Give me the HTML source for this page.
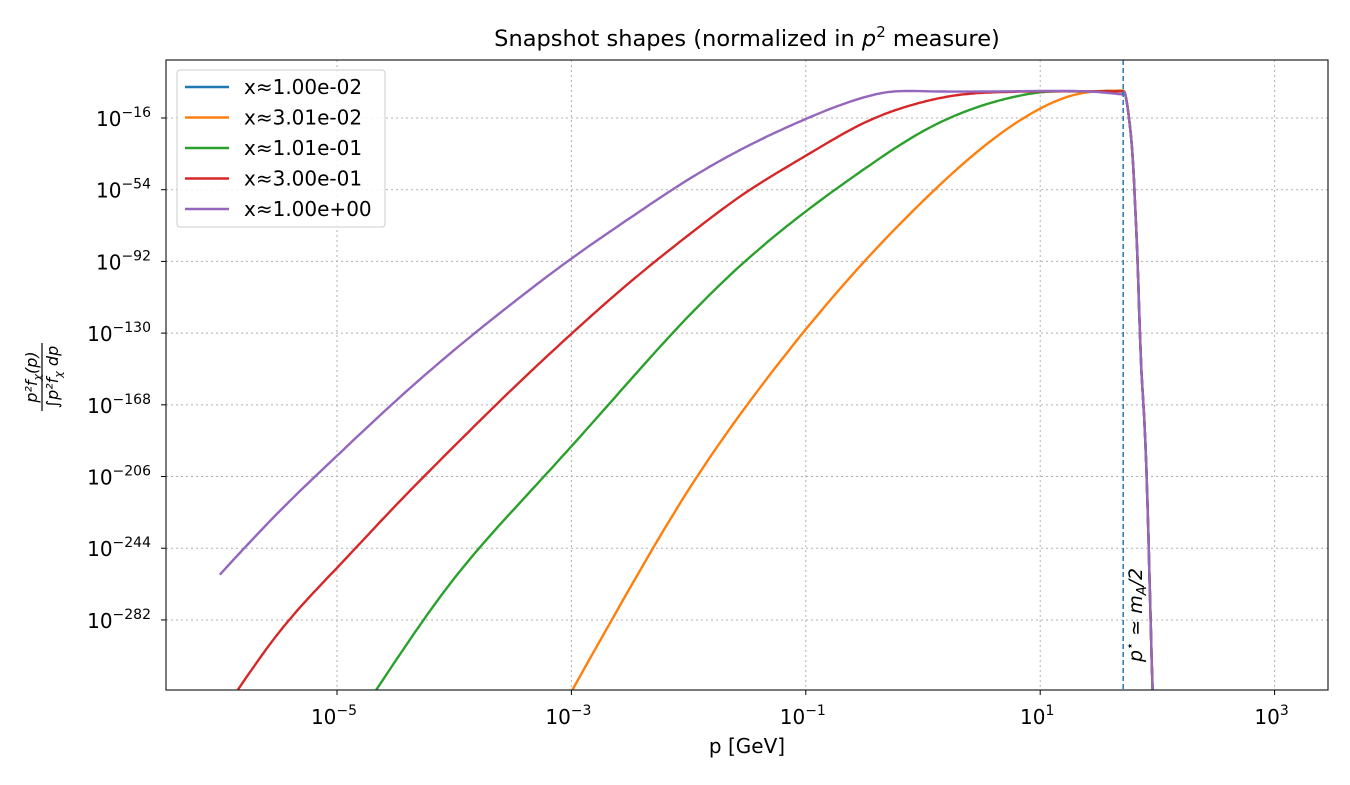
<!DOCTYPE html>
<html><head><meta charset="utf-8"><style>
body{margin:0;background:#fff;font-family:"Liberation Sans","DejaVu Sans",sans-serif}
svg text{font-family:"DejaVu Sans","Liberation Sans",sans-serif}
</style></head><body>
<svg id="chart" width="1350" height="780">
<rect width="1350" height="780" fill="#fff"/>
<defs><clipPath id="pc"><rect x="166" y="60" width="1162" height="630"/></clipPath></defs>
<g id="grid"></g>
<g id="series" clip-path="url(#pc)"></g>
<rect x="166" y="60" width="1162" height="630" fill="none" stroke="#222" stroke-width="1.2"/>
<g id="axes"></g>
<text x="747" y="46" font-size="22.5" text-anchor="middle">Snapshot shapes (normalized in <tspan font-style="italic">p</tspan><tspan font-size="15" dy="-9">2</tspan><tspan dy="9"> measure)</tspan></text>
<text x="747" y="753" font-size="20" text-anchor="middle">p  [GeV]</text>
<g transform="translate(42,377) rotate(-90)">
<text x="0" y="-5" font-size="16" font-style="italic" text-anchor="middle">p²f<tspan font-size="11" dy="4">χ</tspan><tspan dy="-4">(p)</tspan></text>
<line x1="-34" x2="34" y1="0" y2="0" stroke="#000" stroke-width="1.2"/>
<text x="0" y="16" font-size="16" font-style="italic" text-anchor="middle">∫p²f<tspan font-size="11" dy="4">χ</tspan><tspan dy="-4"> dp</tspan></text>
</g>
<g>
<rect x="177" y="70" width="208" height="157" rx="3" fill="#fff" fill-opacity="0.85" stroke="#ccc"/>
<g id="legend"></g>
</g>
</svg>
<script>
const NS='http://www.w3.org/2000/svg';
const xTicks=[-5,-3,-1,1,3];
const yTicks=[-16,-54,-92,-130,-168,-206,-244,-282];
const seriesLabels=['x≈1.00e-02','x≈3.01e-02','x≈1.01e-01','x≈3.00e-01','x≈1.00e+00'];
const seriesColors=['#1f77b4','#ff7f0e','#2ca02c','#d62728','#9467bd'];
const dropP=[1.72,1.74,1.765,1.79,1.81,1.83,1.86,1.89,1.92,1.95,1.97];
const dropY=[-2.5,-8,-20,-38,-62,-91,-145,-178,-230,-300,-340];
const blueP=[1.55,1.7];const blueY=[-1.6,-1.5];
const orangeP=[-3,-2.5,-2,-1.5,-1,-0.5,0,0.5,1,1.3,1.5,1.7];
const orangeY=[-320,-265,-213,-168,-128,-92,-60,-32,-11,-3.6,-1.8,-1.5];
const greenP=[-4.67,-4,-3.5,-3,-2.5,-2,-1.5,-1,-0.5,0,0.5,0.8,1,1.3,1.7];
const greenY=[-319.5,-260,-224,-190,-155,-121,-91,-65.5,-43,-23,-9.5,-4.5,-2.4,-1.9,-1.8];
const redP=[-5.9,-5.5,-5,-4.5,-4,-3.5,-3,-2.5,-2,-1.5,-1,-0.5,0,0.3,0.6,1,1.7];
const redY=[-324,-289,-254.4,-221.4,-189.9,-159.4,-130.4,-103,-78,-55,-36,-18.5,-7.5,-3.8,-2.4,-1.9,-1.9];
const purpleP=[-6,-5.5,-5,-4.5,-4,-3.5,-3,-2.5,-2,-1.5,-1,-0.5,-0.3,0,1,1.5,1.7];
const purpleY=[-258,-225,-195,-166,-139,-114,-90.5,-69,-48.5,-31,-16.5,-5,-2.3,-1.8,-1.7,-2.3,-3.5];
const pStar=1.708;
const X=v=>337+(v+5)*117.2;
const Y=v=>118+(-16-v)*1.887;
const g=document.getElementById('grid'),ax=document.getElementById('axes');
function mk(t,a,p){const e=document.createElementNS(NS,t);for(const k in a)e.setAttribute(k,a[k]);p.appendChild(e);return e;}
function spline(xs,ys,steps){const n=xs.length;if(n<3)return xs.map((x,i)=>[x,ys[i]]);
 const h=[],al=[],l=[1],mu=[0],z=[0],c=new Array(n).fill(0),b=[],d=[];
 for(let i=0;i<n-1;i++)h.push(xs[i+1]-xs[i]);
 for(let i=1;i<n-1;i++)al[i]=3/h[i]*(ys[i+1]-ys[i])-3/h[i-1]*(ys[i]-ys[i-1]);
 for(let i=1;i<n-1;i++){l[i]=2*(xs[i+1]-xs[i-1])-h[i-1]*mu[i-1];mu[i]=h[i]/l[i];z[i]=(al[i]-h[i-1]*z[i-1])/l[i];}
 for(let j=n-2;j>=0;j--){c[j]=(j>0?z[j]-mu[j]*c[j+1]:0);b[j]=(ys[j+1]-ys[j])/h[j]-h[j]*(c[j+1]+2*c[j])/3;d[j]=(c[j+1]-c[j])/(3*h[j]);}
 const out=[];for(let i=0;i<n-1;i++)for(let k=0;k<steps;k++){const t=h[i]*k/steps;out.push([xs[i]+t,ys[i]+b[i]*t+c[i]*t*t+d[i]*t*t*t]);}
 out.push([xs[n-1],ys[n-1]]);return out;}
xTicks.forEach(t=>{const x=X(t);
 const l=mk('line',{x1:x,x2:x,y1:60,y2:690,stroke:'#b0b0b0','stroke-dasharray':'2,3','stroke-width':1},g);
 
 
 mk('line',{x1:x,x2:x,y1:690,y2:695,stroke:'#000'},ax);
 const tx=mk('text',{x:x-3,y:724,'font-size':20,'text-anchor':'middle'},ax);
 
 
 tx.innerHTML='10<tspan font-size="14" dy="-9">'+(t<0?'−'+(-t):t)+'</tspan>';});
yTicks.forEach(t=>{const y=Y(t);
 const l=mk('line',{x1:166,x2:1328,y1:y,y2:y,stroke:'#b0b0b0','stroke-dasharray':'2,3','stroke-width':1},g);
 
 
 mk('line',{x1:161,x2:166,y1:y,y2:y,stroke:'#000'},ax);
 const tx=mk('text',{x:151,y:y+8,'font-size':20,'text-anchor':'end'},ax);
 
 
 tx.innerHTML='10<tspan font-size="14" dy="-9">−'+(-t)+'</tspan>';});
const s=document.getElementById('series');
const all=[[blueP,blueY],[orangeP,orangeY],[greenP,greenY],[redP,redY],[purpleP,purpleY]];
all.forEach((d,i)=>{
 const main=spline(d[0],d[1],12);
 const last=d[0].length-1;
 const drop=spline([d[0][last]].concat(dropP),[d[1][last]].concat(dropY),8).slice(1);
 const pts=main.concat(drop).map(q=>X(q[0]).toFixed(1)+','+Y(q[1]).toFixed(1)).join(' ');
 const pl=mk('polyline',{points:pts,fill:'none',stroke:seriesColors[i],'stroke-width':2.4,'stroke-linejoin':'round'},s);
 
 });
const dl=mk('line',{x1:X(pStar),x2:X(pStar),y1:60,y2:690,stroke:'#1f77b4','stroke-width':1.5,'stroke-dasharray':'5,3'},s);


const pt=mk('text',{transform:'translate('+(X(pStar)+19)+',662) rotate(-90)','font-size':19,'font-style':'italic'},document.getElementById('chart'));


pt.innerHTML='p<tspan font-size="13" dy="-8">⋆</tspan><tspan dy="8"> ≃ m</tspan><tspan font-size="13" dy="4">A</tspan><tspan dy="-4">/2</tspan>';
const lg=document.getElementById('legend');
seriesLabels.forEach((lab,i)=>{const y=87+i*30.5;
 const ll=mk('line',{x1:185,x2:229,y1:y,y2:y,stroke:seriesColors[i],'stroke-width':2.4},lg);
 
 
 const t=mk('text',{x:244,y:y+7,'font-size':20},lg);
 
 
 t.textContent=lab;});
</script>
</body></html>
